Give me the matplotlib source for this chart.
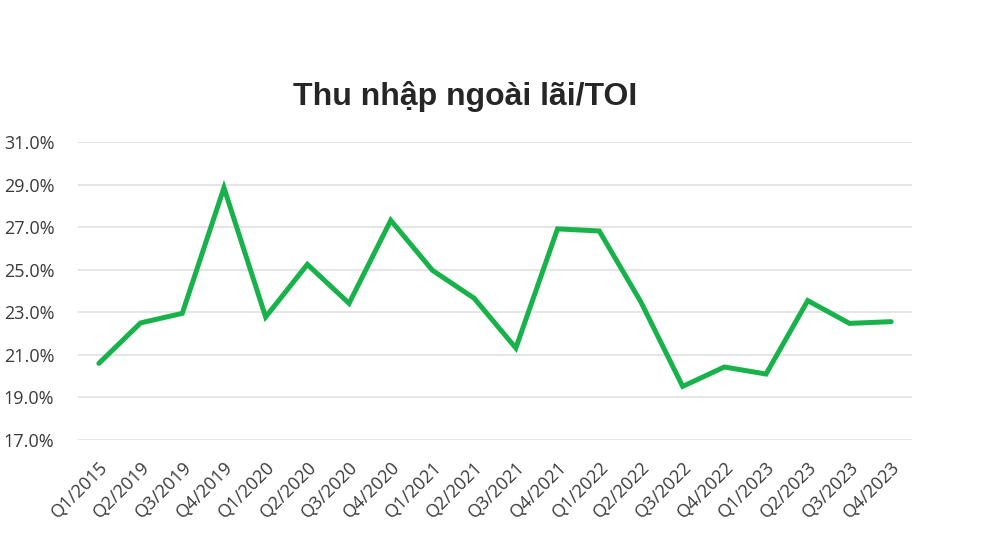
import matplotlib
matplotlib.use("Agg")
import matplotlib.pyplot as plt
from matplotlib.ticker import FuncFormatter

categories = ["Q1/2015", "Q2/2019", "Q3/2019", "Q4/2019", "Q1/2020", "Q2/2020",
              "Q3/2020", "Q4/2020", "Q1/2021", "Q2/2021", "Q3/2021", "Q4/2021",
              "Q1/2022", "Q2/2022", "Q3/2022", "Q4/2022", "Q1/2023", "Q2/2023",
              "Q3/2023", "Q4/2023"]
values = [20.6, 22.5, 22.95, 28.85, 22.78, 25.25, 23.42, 27.32, 24.97, 23.66,
          21.32, 26.92, 26.82, 23.48, 19.52, 20.43, 20.1, 23.55, 22.48, 22.56]
title = "Thu nhập ngoài lãi/TOI"
y_ticks = [17, 19, 21, 23, 25, 27, 29, 31]

fig = plt.figure(figsize=(10, 5.56), dpi=100)
ax = fig.add_axes([0.078, 0.2086, 0.834, 0.536])

x = list(range(len(categories)))
ax.plot(x, values, color="#17B34A", lw=3.6, solid_joinstyle="miter", solid_capstyle="round", zorder=3)

ax.set_xlim(-0.5, len(categories) - 0.5)
ax.set_ylim(17, 31)
ax.set_yticks(y_ticks)
ax.yaxis.set_major_formatter(FuncFormatter(lambda v, p: f"{v:.1f}%"))
ax.grid(axis="y", color="#e3e3e3", lw=1.3)
ax.set_axisbelow(True)
for s in ax.spines.values():
    s.set_visible(False)
ax.tick_params(length=0)
ax.tick_params(axis="y", pad=17, labelsize=13, labelcolor="#3a3a3a")
ax.set_xticks(x)
ax.set_xticklabels(categories, rotation=45, ha="right", rotation_mode="anchor",
                   fontsize=13, color="#3a3a3a")
ax.tick_params(axis="x", pad=13)
for lab in ax.get_xticklabels() + ax.get_yticklabels():
    lab.set_family("Open Sans")

fig.text(0.465, 0.811, title, ha="center", va="baseline", fontsize=23,
         fontweight="bold", color="#262626", family="Liberation Sans")

fig.savefig("out.png", dpi=100, facecolor="white")
